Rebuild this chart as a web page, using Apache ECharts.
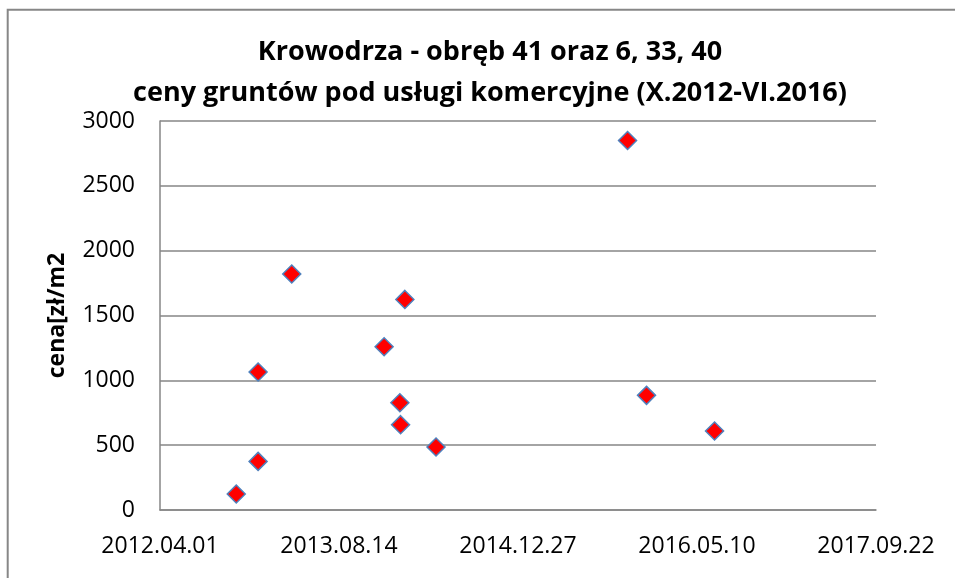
<!DOCTYPE html>
<html>
<head>
<meta charset="utf-8">
<script src="https://cdn.jsdelivr.net/npm/echarts@6/dist/echarts.min.js"></script>
<style>
html,body{margin:0;padding:0;background:#fff;}
#chart{width:955px;height:578px;}
</style>
</head>
<body>
<div id="chart"></div>
<script>
// Transaction dates (yyyy-mm-dd) and prices [zł/m2]
const dates = ['2012-10-31','2012-12-31','2012-12-31','2013-04-04','2013-12-18','2014-01-31','2014-02-02','2014-02-14','2014-05-12','2015-10-29','2015-12-21','2016-06-28'];
const prices = [123, 375, 1064, 1820, 1259, 827, 658, 1624, 486, 2850, 884, 609];
const titleLines = ['Krowodrza - obręb 41 oraz 6, 33, 40', 'ceny gruntów pod usługi komercyjne (X.2012-VI.2016)'];
const yAxisName = 'cena[zł/m2';
const xMin = '2012-04-01', xMax = '2017-09-22', xStepDays = 500;
const yMin = 0, yMax = 3000, yStep = 500;

const EPOCH = Date.UTC(1899, 11, 30);
function toSerial(s) {
  const p = s.split('-').map(Number);
  return Math.round((Date.UTC(p[0], p[1] - 1, p[2]) - EPOCH) / 86400000);
}
function fromSerial(n) {
  const d = new Date(EPOCH + n * 86400000);
  const pad = v => String(v).padStart(2, '0');
  return d.getUTCFullYear() + '.' + pad(d.getUTCMonth() + 1) + '.' + pad(d.getUTCDate());
}
const points = dates.map((d, i) => [toSerial(d), prices[i]]);

const chart = echarts.init(document.getElementById('chart'), null, {renderer: 'canvas'});
const font = '"Open Sans", "Noto Sans", sans-serif';
chart.setOption({
  animation: false,
  backgroundColor: '#ffffff',
  graphic: [{
    type: 'rect', silent: true, z: -1,
    shape: {x: 7.7, y: 9.8, width: 2000, height: 2000},
    style: {fill: 'none', stroke: '#878787', lineWidth: 2}
  }],
  title: {
    text: titleLines.join('\n'),
    left: 485, top: 27, textAlign: 'center',
    textStyle: {fontFamily: font, fontWeight: 'bold', fontSize: 27, lineHeight: 41, color: '#000'}
  },
  grid: {left: 160, right: 79, top: 121, bottom: 68, containLabel: false},
  xAxis: {
    type: 'value', min: toSerial(xMin), max: toSerial(xMax), interval: xStepDays,
    axisLine: {show: true, lineStyle: {color: '#868686', width: 1.5}},
    axisTick: {show: false},
    splitLine: {show: false},
    axisLabel: {
      formatter: v => fromSerial(v),
      fontFamily: font, fontSize: 23, color: '#000', margin: 25
    }
  },
  yAxis: {
    type: 'value', min: yMin, max: yMax, interval: yStep,
    name: yAxisName, nameLocation: 'middle', nameGap: 91,
    nameTextStyle: {fontFamily: font, fontWeight: 'bold', fontSize: 23, color: '#000'},
    axisLine: {show: true, lineStyle: {color: '#868686', width: 1.5}},
    axisTick: {show: false},
    splitLine: {show: true, lineStyle: {color: '#868686', width: 1.5}},
    axisLabel: {formatter: v => String(v), fontFamily: font, fontSize: 23, color: '#000', margin: 25}
  },
  series: [{
    type: 'scatter',
    data: points,
    symbol: 'diamond',
    symbolSize: 18,
    itemStyle: {color: '#ff0000', borderColor: '#4f81bd', borderWidth: 1.5, opacity: 1}
  }]
});
</script>
</body>
</html>
